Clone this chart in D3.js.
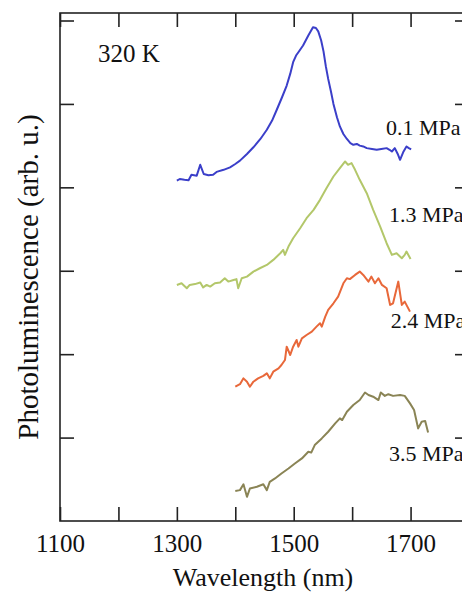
<!DOCTYPE html>
<html>
<head>
<meta charset="utf-8">
<script src="https://cdn.jsdelivr.net/npm/d3@7"></script>
<style>
  html, body { margin: 0; padding: 0; background: #fff; }
  svg { display: block; }
  text { font-family: "Liberation Serif", "Times New Roman", serif; fill: #111; }
</style>
</head>
<body>
<svg id="chart" width="462" height="595"></svg>
<script>
// ---- data (wavelength nm, photoluminescence arb. u. incl. vertical offset) ----
const series_01MPa = [
  [1300,4.08],[1305,4.10],[1313,4.09],[1320,4.085],[1325,4.15],[1334,4.14],[1340,4.27],[1346,4.16],[1354,4.145],
  [1362,4.15],[1368,4.185],[1380,4.21],[1391,4.24],[1400,4.28],[1408,4.32],[1420,4.40],[1431,4.48],[1443,4.58],
  [1454,4.69],[1463,4.80],[1471,4.93],[1480,5.08],[1488,5.22],[1494,5.36],[1499,5.50],[1504,5.58],[1508,5.62],
  [1516,5.70],[1525,5.82],[1533,5.92],[1538,5.91],[1542,5.87],[1547,5.76],[1551,5.63],[1555,5.45],[1559,5.30],
  [1564,5.14],[1568,5.00],[1574,4.84],[1579,4.73],[1585,4.64],[1591,4.58],[1597,4.53],[1602,4.51],[1608,4.52],
  [1613,4.50],[1619,4.49],[1625,4.47],[1634,4.46],[1642,4.45],[1650,4.46],[1659,4.47],[1664,4.45],[1668,4.43],
  [1673,4.47],[1678,4.40],[1682,4.33],[1688,4.43],[1693,4.49],[1697,4.47],[1701,4.455]
];
const series_13MPa = [
  [1300,2.83],[1308,2.85],[1317,2.79],[1322,2.83],[1331,2.84],[1340,2.86],[1345,2.80],[1351,2.83],[1357,2.81],
  [1365,2.85],[1374,2.86],[1382,2.91],[1388,2.87],[1397,2.89],[1402,2.90],[1405,2.79],[1411,2.91],[1420,2.93],
  [1431,2.99],[1442,3.03],[1454,3.07],[1465,3.13],[1477,3.21],[1482,3.25],[1485,3.19],[1491,3.29],[1499,3.39],
  [1511,3.51],[1522,3.63],[1534,3.73],[1545,3.85],[1556,3.99],[1568,4.13],[1579,4.23],[1588,4.31],[1593,4.27],
  [1599,4.29],[1605,4.21],[1613,4.09],[1625,3.93],[1636,3.73],[1648,3.53],[1659,3.33],[1668,3.19],[1676,3.21],
  [1685,3.15],[1690,3.19],[1693,3.23],[1700,3.14]
];
const series_24MPa = [
  [1400,1.61],[1408,1.64],[1414,1.71],[1420,1.67],[1425,1.61],[1431,1.67],[1439,1.71],[1448,1.74],[1454,1.77],
  [1459,1.71],[1465,1.79],[1474,1.83],[1479,1.87],[1485,1.93],[1488,2.09],[1494,1.99],[1499,2.09],[1505,2.17],
  [1508,2.09],[1514,2.19],[1522,2.23],[1531,2.27],[1539,2.33],[1545,2.37],[1548,2.33],[1554,2.45],[1559,2.53],
  [1568,2.61],[1576,2.69],[1585,2.85],[1591,2.91],[1596,2.90],[1605,2.95],[1613,2.99],[1619,2.95],[1628,2.87],
  [1633,2.93],[1639,2.85],[1645,2.91],[1651,2.83],[1659,2.79],[1665,2.59],[1670,2.61],[1679,2.87],[1685,2.59],
  [1690,2.63],[1699,2.51]
];
const series_35MPa = [
  [1400,0.36],[1408,0.37],[1414,0.44],[1420,0.29],[1425,0.39],[1437,0.41],[1448,0.44],[1454,0.37],[1459,0.47],
  [1468,0.51],[1479,0.57],[1491,0.63],[1502,0.69],[1514,0.75],[1525,0.83],[1530,0.82],[1536,0.91],[1548,0.99],
  [1559,1.07],[1571,1.17],[1579,1.23],[1583,1.21],[1591,1.31],[1602,1.39],[1613,1.45],[1622,1.54],[1628,1.51],
  [1636,1.49],[1645,1.45],[1649,1.54],[1656,1.50],[1662,1.52],[1670,1.50],[1682,1.51],[1690,1.50],[1699,1.41],
  [1706,1.33],[1713,1.11],[1719,1.19],[1725,1.20],[1730,1.06]
];
const seriesNames  = ["0.1 MPa", "1.3 MPa", "2.4 MPa", "3.5 MPa"];
const seriesColors = ["#3b3fc9", "#b3c76a", "#e8683a", "#8a8455"];
// label anchor (nm, arb. u.)
const labelAnchors = [[1658, 4.63], [1663, 3.585], [1666, 2.314], [1663, 0.72]];

const xTicks      = [1100, 1200, 1300, 1400, 1500, 1600, 1700, 1800];
const xTickLabels = [1100, 1300, 1500, 1700];
const yTicks      = [1, 2, 3, 4, 5, 6];
const xDomain = [1100, 1800];
const yDomain = [0, 6.09];
const temperatureLabel = "320 K";
const xTitle = "Wavelength (nm)";
const yTitle = "Photoluminescence (arb. u.)";

// ---- drawing ----
(function () {
const allSeries = [series_01MPa, series_13MPa, series_24MPa, series_35MPa];
const svg = d3.select("#chart");
const pl = 60, pr = 469, pt = 13, pb = 521;

const x = d3.scaleLinear().domain(xDomain).range([pl, pr]);
const y = d3.scaleLinear().domain(yDomain).range([pb, pt]);

// frame
svg.append("rect")
  .attr("x", pl).attr("y", pt)
  .attr("width", pr - pl).attr("height", pb - pt)
  .attr("fill", "none").attr("stroke", "#222").attr("stroke-width", 1.6);

const tickLen = 14;
function styleAxis(g) {
  g.select(".domain").remove();
  g.selectAll(".tick line").attr("stroke", "#222").attr("stroke-width", 1.6);
}

// bottom axis
svg.append("g").attr("transform", `translate(0,${pb})`)
  .call(d3.axisBottom(x).tickValues(xTicks).tickSize(-tickLen).tickPadding(13)
    .tickFormat(d => xTickLabels.includes(d) ? d : ""))
  .call(styleAxis)
  .call(g => g.selectAll("text").attr("font-size", 25).attr("fill", "#111")
    .style("font-family", "'Liberation Serif', serif"));

// top axis
svg.append("g").attr("transform", `translate(0,${pt})`)
  .call(d3.axisTop(x).tickValues(xTicks).tickSize(-tickLen).tickFormat(""))
  .call(styleAxis);

// left axis
svg.append("g").attr("transform", `translate(${pl},0)`)
  .call(d3.axisLeft(y).tickValues(yTicks).tickSize(-tickLen).tickFormat(""))
  .call(styleAxis);

// right axis
svg.append("g").attr("transform", `translate(${pr},0)`)
  .call(d3.axisRight(y).tickValues(yTicks).tickSize(-tickLen).tickFormat(""))
  .call(styleAxis);

// lines
const line = d3.line().x(d => x(d[0])).y(d => y(d[1]));
svg.selectAll("path.series").data(allSeries).join("path")
  .attr("class", "series")
  .attr("d", line)
  .attr("fill", "none")
  .attr("stroke", (d, i) => seriesColors[i])
  .attr("stroke-width", 2)
  .attr("stroke-linejoin", "round");

// series labels
svg.selectAll("text.slabel").data(seriesNames).join("text")
  .attr("class", "slabel")
  .attr("x", (d, i) => x(labelAnchors[i][0]))
  .attr("y", (d, i) => y(labelAnchors[i][1]))
  .attr("font-size", 22)
  .text(d => d);

// temperature label
svg.append("text")
  .attr("x", 98).attr("y", 62)
  .attr("font-size", 25)
  .text(temperatureLabel);

// axis titles
svg.append("text")
  .attr("x", 263).attr("y", 586)
  .attr("text-anchor", "middle")
  .attr("font-size", 26)
  .text(xTitle);

svg.append("text")
  .attr("transform", `translate(38,277) rotate(-90)`)
  .attr("text-anchor", "middle")
  .attr("font-size", 29)
  .text(yTitle);
})();
</script>
</body>
</html>
